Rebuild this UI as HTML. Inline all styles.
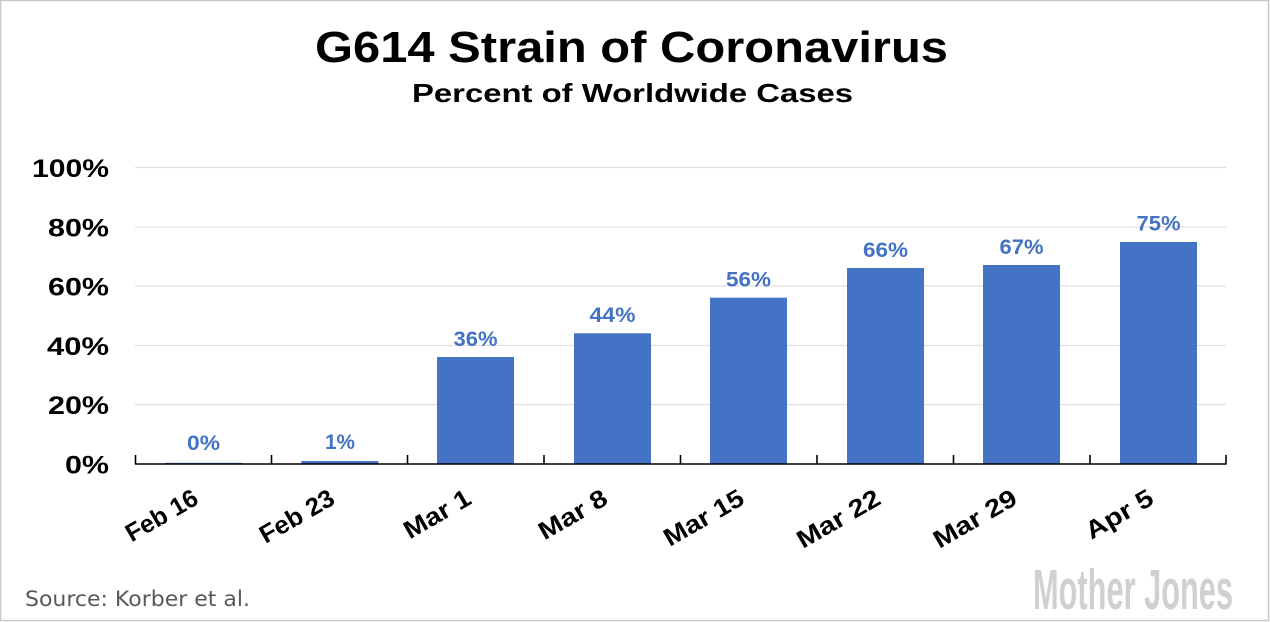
<!DOCTYPE html>
<html>
<head>
<meta charset="utf-8">
<style>
  html, body { margin: 0; padding: 0; background: #ffffff; }
  svg { display: block; }
  text { font-family: "Liberation Sans", Arial, sans-serif; }
</style>
</head>
<body>
<svg width="1270" height="622" viewBox="0 0 1270 622" xmlns="http://www.w3.org/2000/svg">
  <rect x="0" y="0" width="1270" height="622" fill="#ffffff"/>
  <rect x="0.5" y="0.5" width="1268" height="620" fill="none" stroke="#c8c8c8" stroke-width="1.5"/>

  <!-- Title -->
  <text x="315" y="62" font-size="44" font-weight="bold" fill="#000" textLength="633" lengthAdjust="spacingAndGlyphs">G614 Strain of Coronavirus</text>
  <text x="412" y="102" font-size="26" font-weight="bold" fill="#000" textLength="441" lengthAdjust="spacingAndGlyphs">Percent of Worldwide Cases</text>

  <!-- Gridlines -->
  <g stroke="#e0e0e0" stroke-width="1.2">
    <line x1="135" y1="167.5" x2="1226" y2="167.5"/>
    <line x1="135" y1="227" x2="1226" y2="227"/>
    <line x1="135" y1="286" x2="1226" y2="286"/>
    <line x1="135" y1="345.5" x2="1226" y2="345.5"/>
    <line x1="135" y1="404.5" x2="1226" y2="404.5"/>
  </g>

  <!-- Y labels -->
  <g font-size="25" font-weight="bold" fill="#000" text-anchor="end">
    <text x="109" y="177" textLength="77" lengthAdjust="spacingAndGlyphs">100%</text>
    <text x="109" y="236.5" textLength="61" lengthAdjust="spacingAndGlyphs">80%</text>
    <text x="109" y="295.5" textLength="61" lengthAdjust="spacingAndGlyphs">60%</text>
    <text x="109" y="355" textLength="62" lengthAdjust="spacingAndGlyphs">40%</text>
    <text x="109" y="414" textLength="61" lengthAdjust="spacingAndGlyphs">20%</text>
    <text x="109" y="473.5" textLength="44" lengthAdjust="spacingAndGlyphs">0%</text>
  </g>

  <!-- Bars -->
  <g fill="#4472C4">
    <rect x="165" y="462.8" width="77" height="1.2"/>
    <rect x="301.4" y="461" width="77" height="3"/>
    <rect x="437" y="357" width="77" height="107"/>
    <rect x="574" y="333.3" width="77" height="130.7"/>
    <rect x="710" y="297.7" width="77" height="166.3"/>
    <rect x="847" y="268" width="77" height="196"/>
    <rect x="983" y="265" width="77" height="199"/>
    <rect x="1120" y="242" width="77" height="222"/>
  </g>

  <!-- Data labels -->
  <g font-size="21" font-weight="bold" fill="#4472C4" text-anchor="middle">
    <text x="203.5" y="450" textLength="33" lengthAdjust="spacingAndGlyphs">0%</text>
    <text x="340" y="449" textLength="30" lengthAdjust="spacingAndGlyphs">1%</text>
    <text x="475.5" y="346" textLength="44" lengthAdjust="spacingAndGlyphs">36%</text>
    <text x="612.5" y="322" textLength="46" lengthAdjust="spacingAndGlyphs">44%</text>
    <text x="748.5" y="286.5" textLength="45" lengthAdjust="spacingAndGlyphs">56%</text>
    <text x="885.5" y="257" textLength="45" lengthAdjust="spacingAndGlyphs">66%</text>
    <text x="1021.5" y="254" textLength="44" lengthAdjust="spacingAndGlyphs">67%</text>
    <text x="1158.5" y="230.5" textLength="44" lengthAdjust="spacingAndGlyphs">75%</text>
  </g>

  <!-- Axis line and ticks -->
  <g stroke="#000" stroke-width="1.6">
    <line x1="135" y1="464" x2="1226.5" y2="464"/>
    <line x1="135.5" y1="455" x2="135.5" y2="464"/>
    <line x1="271.5" y1="455" x2="271.5" y2="464"/>
    <line x1="407.5" y1="455" x2="407.5" y2="464"/>
    <line x1="544" y1="455" x2="544" y2="464"/>
    <line x1="680.5" y1="455" x2="680.5" y2="464"/>
    <line x1="817" y1="455" x2="817" y2="464"/>
    <line x1="953.5" y1="455" x2="953.5" y2="464"/>
    <line x1="1090" y1="455" x2="1090" y2="464"/>
    <line x1="1226" y1="455" x2="1226" y2="464"/>
  </g>

  <!-- X labels -->
  <g font-size="25" font-weight="bold" fill="#000" text-anchor="end">
    <text transform="translate(200,503) rotate(-30)" textLength="79" lengthAdjust="spacingAndGlyphs">Feb 16</text>
    <text transform="translate(336.5,503) rotate(-30)" textLength="82" lengthAdjust="spacingAndGlyphs">Feb 23</text>
    <text transform="translate(473,503) rotate(-30)" textLength="73" lengthAdjust="spacingAndGlyphs">Mar 1</text>
    <text transform="translate(609.5,503) rotate(-30)" textLength="75" lengthAdjust="spacingAndGlyphs">Mar 8</text>
    <text transform="translate(746,503) rotate(-30)" textLength="88" lengthAdjust="spacingAndGlyphs">Mar 15</text>
    <text transform="translate(882.5,503) rotate(-30)" textLength="92" lengthAdjust="spacingAndGlyphs">Mar 22</text>
    <text transform="translate(1019,503) rotate(-30)" textLength="92" lengthAdjust="spacingAndGlyphs">Mar 29</text>
    <text transform="translate(1155.5,503) rotate(-30)" textLength="74" lengthAdjust="spacingAndGlyphs">Apr 5</text>
  </g>

  <!-- Source -->
  <text x="25" y="606" font-size="21" fill="#595959" style="font-family:'DejaVu Sans','Liberation Sans',sans-serif" textLength="225" lengthAdjust="spacingAndGlyphs">Source: Korber et al.</text>

  <!-- Mother Jones logo -->
  <text x="1033" y="609" font-size="57" font-weight="bold" fill="#d0d0d0" textLength="200" lengthAdjust="spacingAndGlyphs">Mother Jones</text>
</svg>
</body>
</html>
